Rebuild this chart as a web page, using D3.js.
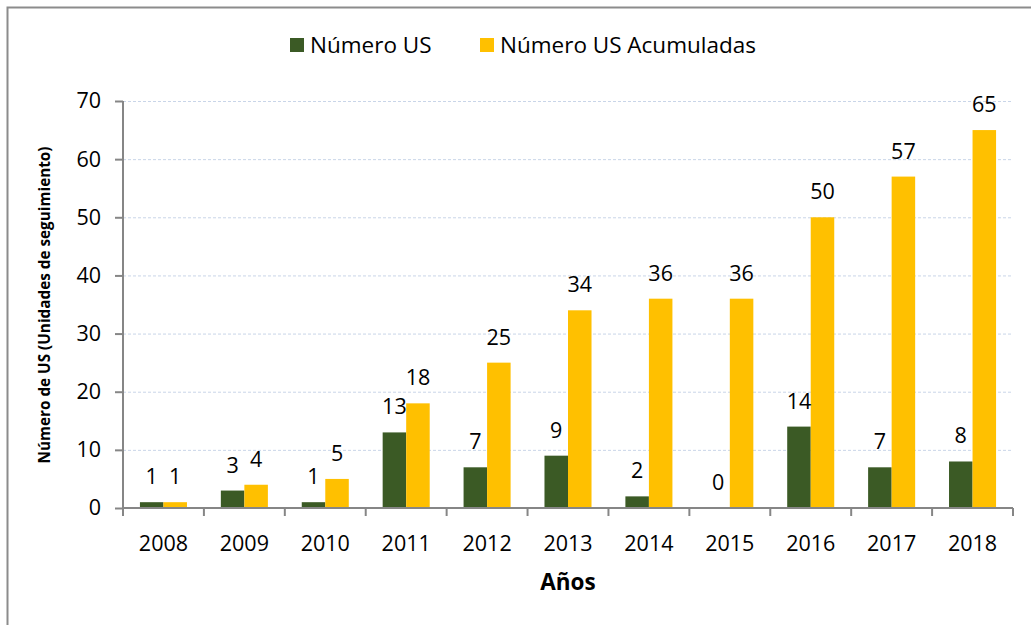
<!DOCTYPE html>
<html>
<head>
<meta charset="utf-8">
<script src="https://cdn.jsdelivr.net/npm/d3@7"></script>
<style>
html,body{margin:0;padding:0;background:#fff;}
svg{display:block;}
text{font-family:"Open Sans",sans-serif;fill:#000;}
</style>
</head>
<body>
<svg id="chart" width="1031" height="625"></svg>
<script>
const years = ["2008","2009","2010","2011","2012","2013","2014","2015","2016","2017","2018"];
const numeroUS = [1,3,1,13,7,9,2,0,14,7,8];
const numeroUSAcumuladas = [1,4,5,18,25,34,36,36,50,57,65];
const seriesNames = ["Número US","Número US Acumuladas"];
const seriesColors = ["#3b5a25","#ffc000"];
const yTicks = [0,10,20,30,40,50,60,70];
const yTitle = "Número de US (Unidades de seguimiento)";
const xTitle = "Años";

const FONT = "'Open Sans',sans-serif";
const FS = 21.5;
const svg = d3.select("#chart");
const W = 1031, H = 625;
const m = {left:123, right:1013, top:101, bottom:508};

// outer frame (left + top lines)
svg.append("path").attr("d",`M7.5,${H} L7.5,7.5 L${W},7.5`)
  .attr("fill","none").attr("stroke","#8c8c8c").attr("stroke-width",2);

const x = d3.scaleBand().domain(years).range([m.left,m.right]).paddingInner(0).paddingOuter(0);
const xs = d3.scaleBand().domain([0,1]).range([0,x.bandwidth()]).paddingInner(0).paddingOuter(0.72);
const y = d3.scaleLinear().domain([0,70]).range([m.bottom,m.top]);

// gridlines
svg.append("g").selectAll("line").data(yTicks.filter(d=>d>0)).join("line")
  .attr("x1",m.left).attr("x2",m.right)
  .attr("y1",d=>y(d)+0.5).attr("y2",d=>y(d)+0.5)
  .attr("stroke","#c9d5e8").attr("stroke-width",1).attr("stroke-dasharray","3,2");

// bars
const data = years.map((yr,i)=>({yr, vals:[numeroUS[i], numeroUSAcumuladas[i]]}));
const g = svg.append("g").selectAll("g").data(data).join("g")
  .attr("transform",d=>`translate(${x(d.yr)},0)`);
g.selectAll("rect").data(d=>d.vals.map((v,k)=>({v,k}))).join("rect")
  .attr("x",d=>xs(d.k)).attr("width",xs.bandwidth())
  .attr("y",d=>y(d.v)).attr("height",d=>y(0)-y(d.v))
  .attr("fill",d=>seriesColors[d.k]);
g.selectAll("text").data(d=>d.vals.map((v,k)=>({v,k}))).join("text")
  .attr("x",d=>xs(d.k)+xs.bandwidth()/2).attr("y",d=>y(d.v)-18)
  .attr("text-anchor","middle").attr("font-size",FS).text(d=>d.v);

// y axis
const yAxis = d3.axisLeft(y).tickValues(yTicks).tickSize(8).tickPadding(14);
const ya = svg.append("g").attr("transform",`translate(${m.left},0)`).call(yAxis);
ya.select(".domain").attr("stroke","#868686").attr("stroke-width",2).attr("d",`M0,${m.top}V${m.bottom}`);
ya.selectAll(".tick line").attr("stroke","#868686").attr("stroke-width",2);
ya.selectAll(".tick text").attr("font-size",FS).attr("font-family",FONT).attr("fill","#000");

// x axis
const xAxis = d3.axisBottom(x).tickSize(0).tickPadding(0);
const xa = svg.append("g").attr("transform",`translate(0,${m.bottom})`).call(xAxis);
xa.select(".domain").attr("stroke","#868686").attr("stroke-width",2).attr("d",`M${m.left},0H${m.right}`);
xa.selectAll(".tick text").attr("font-size",FS).attr("font-family",FONT).attr("fill","#000").attr("y",43).attr("dy",0);
svg.append("g").selectAll("line").data(years.map(d=>x(d)).concat([m.right])).join("line")
  .attr("x1",d=>d).attr("x2",d=>d).attr("y1",m.bottom).attr("y2",m.bottom+8)
  .attr("stroke","#868686").attr("stroke-width",2);

// axis titles
svg.append("text").attr("transform",`translate(50,305) rotate(-90)`)
  .attr("text-anchor","middle").attr("font-size",15.3).attr("font-weight","bold").text(yTitle);
svg.append("text").attr("x",(m.left+m.right)/2).attr("y",590)
  .attr("text-anchor","middle").attr("font-size",22.5).attr("font-weight","bold").text(xTitle);

// legend
const legX = [290,480];
const leg = svg.append("g").selectAll("g").data(seriesNames).join("g")
  .attr("transform",(d,i)=>`translate(${legX[i]},38)`);
leg.append("rect").attr("width",14).attr("height",14).attr("fill",(d,i)=>seriesColors[i]);
leg.append("text").attr("x",20).attr("y",15).attr("font-size",22.5).text(d=>d);
</script>
</body>
</html>
